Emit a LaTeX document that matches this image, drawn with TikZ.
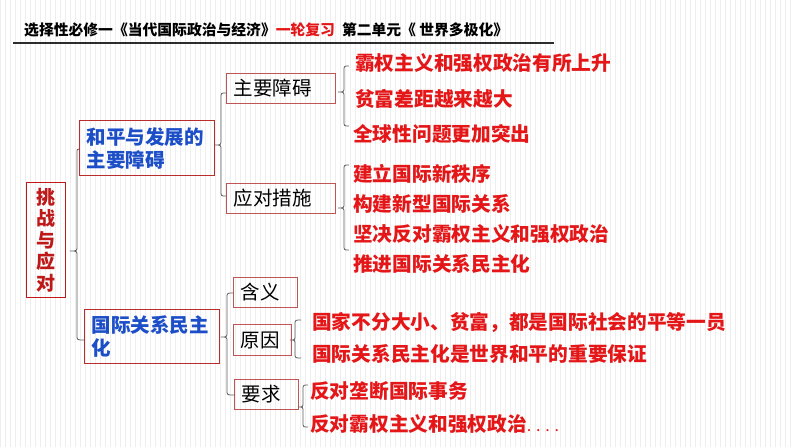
\documentclass[tikz,border=0pt]{standalone}
\usepackage{fontspec}
\setmainfont{Noto Sans CJK SC}
\definecolor{itemred}{RGB}{228,22,24}
\definecolor{rootred}{RGB}{190,24,24}
\definecolor{boxred}{RGB}{185,45,45}
\definecolor{subred}{RGB}{192,85,85}
\definecolor{bluetxt}{RGB}{28,78,200}
\definecolor{bracegray}{RGB}{95,95,95}
\definecolor{gridc}{RGB}{238,238,238}
\definecolor{titlegray}{RGB}{45,45,45}
\newcommand\fsz[2]{\fontsize{#1}{#2}\selectfont}
\newcommand\cbrace[7]{% tipx tipy spinex topy boty topendx botendx
  \draw[bracestyle] (#6,#4) .. controls (#3,#4) .. (#3,{#4+5}) -- (#3,{#2-5})
    .. controls (#3,#2) .. (#1,#2) .. controls (#3,#2) .. (#3,{#2+5})
    -- (#3,{#5-5}) .. controls (#3,#5) .. (#7,#5);}
\tikzset{
  bracestyle/.style={draw=bracegray, line width=0.8pt},
  mainbox/.style={draw=boxred, line width=1.4pt, anchor=north west, inner ysep=0pt, inner xsep=7pt, align=left},
  subbox/.style={draw=subred, line width=1pt, anchor=north west, inner ysep=0pt, inner xsep=7pt, align=left, font=\fsz{19.5}{22}},
  item/.style={anchor=west, inner sep=0pt, text=itemred, font=\bfseries\fsz{19.7}{22}},
}
\begin{document}
\begin{tikzpicture}[x=1pt,y=-1pt]
\useasboundingbox (0,0) rectangle (794,447);
\fill[white] (0,0) rectangle (794,447);
\draw[gridc, line width=0.3pt, step=5] (0,0) grid (794,447);
% title
\node[anchor=west, inner sep=0pt, font=\bfseries\fsz{14.8}{17}] (title) at (24,30)
  {选择性必修一《当代国际政治与经济》\textcolor{itemred}{一轮复习}\hspace{7pt}第二单元《 世界多极化》};
\coordinate (tl) at (13,43);
\coordinate (tr) at (554,43);
\draw[titlegray, line width=1.8pt] (tl) -- (tr);
% root
\node[mainbox, draw=rootred, minimum width=39pt, minimum height=115pt, inner xsep=0pt, align=center,
  text=rootred, font=\bfseries\fsz{19}{21.5}] (root) at (26,182) {挑\\战\\与\\应\\对};
% level 1
\node[mainbox, text width=121pt, minimum height=55pt, text=bluetxt, font=\bfseries\fsz{19.5}{23}] (b1) at (79,120)
  {和平与发展的\\主要障碍};
\node[mainbox, text width=121pt, minimum height=54pt, text=bluetxt, font=\bfseries\fsz{19.5}{23}] (b2) at (84,309)
  {国际关系民主\\化};
% level 2
\node[subbox, text width=95pt, minimum height=30pt] (zy) at (226,73) {主要障碍};
\node[subbox, text width=95pt, minimum height=30pt] (yd) at (226,183) {应对措施};
\node[subbox, text width=50pt, minimum height=30pt] (hy) at (233,277) {含义};
\node[subbox, text width=44pt, minimum height=31pt] (yy) at (233,324) {原因};
\node[subbox, text width=50pt, minimum height=30pt] (yq) at (234,379) {要求};
% items
\node[item] (i11) at (355,63) {霸权主义和强权政治有所上升};
\node[item] (i12) at (355,99) {贫富差距越来越大};
\node[item] (i13) at (353,134) {全球性问题更加突出};
\node[item] (i21) at (353,174) {建立国际新秩序};
\node[item] (i22) at (353,204) {构建新型国际关系};
\node[item] (i23) at (353,234) {坚决反对霸权主义和强权政治};
\node[item] (i24) at (353,264) {推进国际关系民主化};
\node[item] (i31) at (312,322) {国家不分大小、贫富，都是国际社会的平等一员};
\node[item] (i32) at (312,354) {国际关系民主化是世界和平的重要保证};
\node[item] (i41) at (310,391) {反对垄断国际事务};
\node[item] (i42) at (310,424) {反对霸权主义和强权政治{\mdseries\fsz{16}{18}. . . .}};
% braces
\cbrace{70}{251}{77}{149}{340}{79}{84}
\cbrace{215}{145}{221}{93}{196}{226}{226}
\cbrace{221}{337}{227}{293}{395}{233}{234}
\cbrace{338}{92}{344}{66}{126}{349}{349}
\cbrace{338}{208}{344}{165}{250}{349}{349}
\cbrace{290}{340}{295}{320}{358}{301}{301}
\cbrace{298}{407}{303}{385}{427}{308}{308}
\end{tikzpicture}
\end{document}
